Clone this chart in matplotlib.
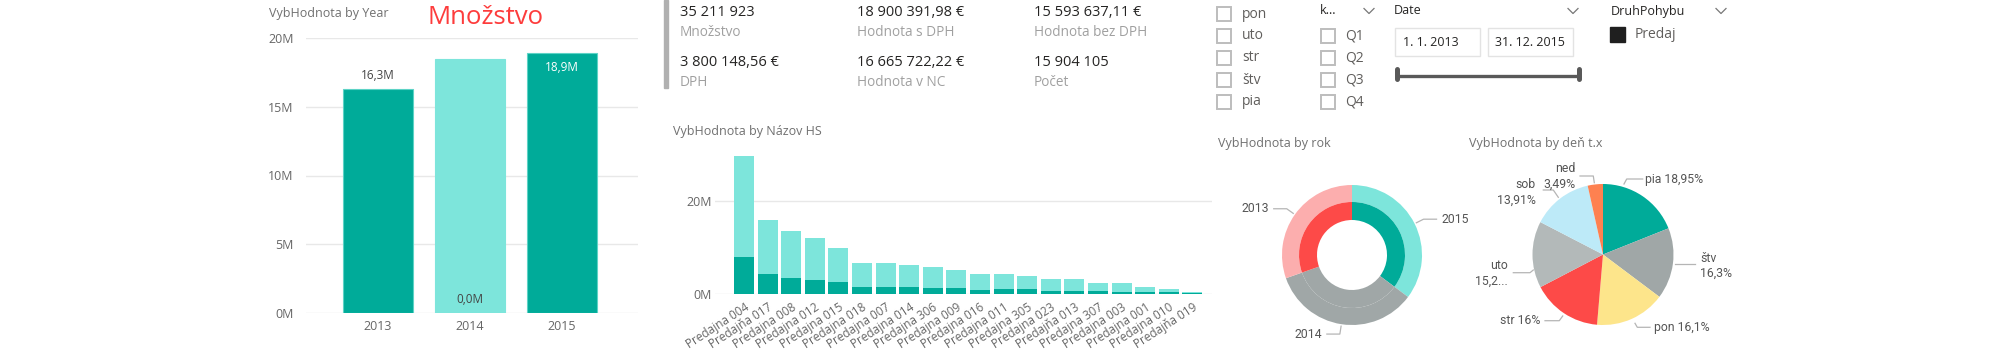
import numpy as np
import matplotlib
matplotlib.use("Agg")
import matplotlib.pyplot as plt
from matplotlib.patches import Rectangle

plt.rcParams['font.family'] = ['Open Sans', 'DejaVu Sans']

# ---- data ----
years = ["2013", "2014", "2015"]
year_vals = [16.3, 18.45, 18.9]          # millions
year_labels = ["16,3M", "0,0M", "18,9M"]

kpi_values = ["35 211 923", "18 900 391,98 €", "15 593 637,11 €",
              "3 800 148,56 €", "16 665 722,22 €", "15 904 105"]
kpi_names = ["Množstvo", "Hodnota s DPH", "Hodnota bez DPH",
             "DPH", "Hodnota v NC", "Počet"]

stores = ["Predajna 004", "Predajňa 017", "Predajna 008", "Predajna 012",
          "Predajna 015", "Predajna 018", "Predajna 007", "Predajna 014",
          "Predajna 306", "Predajna 009", "Predajna 016", "Predajna 011",
          "Predajna 305", "Predajna 023", "Predajňa 013", "Predajna 307",
          "Predajna 003", "Predajna 001", "Predajna 010", "Predajňa 019"]
store_total = [29.5, 15.8, 13.4, 12.1, 9.9, 6.6, 6.55, 6.2, 5.7, 5.2,
               4.35, 4.35, 3.77, 3.2, 3.13, 2.35, 2.3, 1.4, 1.07, 0.35]
store_sel = [7.86, 4.2, 3.5, 2.9, 2.5, 1.5, 1.6, 1.4, 1.28, 1.28,
             0.92, 1.07, 1.07, 0.7, 0.7, 0.56, 0.5, 0.35, 0.35, 0.3]

donut_years = ["2015", "2014", "2013"]
donut_vals = [18.9, 18.45, 16.3]

days = ["pia", "štv", "pon", "str", "uto", "sob", "ned"]
day_pct = [18.95, 16.3, 16.1, 16.0, 15.25, 13.91, 3.49]
day_labels = ["pia 18,95%", "štv\n16,3%", "pon 16,1%", "str 16%",
              "uto\n15,2...", "sob\n13,91%", "ned\n3,49%"]

weekdays = ["pon", "uto", "str", "štv", "pia"]
quarters = ["Q1", "Q2", "Q3", "Q4"]
date_from, date_to = "1. 1. 2013", "31. 12. 2015"

# ---- colours ----
TEAL = '#00AB99'
LTEAL = '#7DE5DB'
GRID = '#E8E8E8'
TXT = '#666666'
TITLE = '#707070'
DARK = '#252423'
LBL = '#555555'

W, H = 2000, 350
fig = plt.figure(figsize=(20, 3.5), dpi=100)


def px_axes(x0, y0, x1, y1):
    return fig.add_axes([x0 / W, 1 - y1 / H, (x1 - x0) / W, (y1 - y0) / H])


bg = fig.add_axes([0, 0, 1, 1])
bg.set_xlim(0, W)
bg.set_ylim(H, 0)
bg.axis('off')

# ---- bar chart by year ----
bg.text(269, 13, "VybHodnota by Year", fontsize=9, color=TITLE, va='center')
bg.text(428, 18, "Množstvo", fontsize=18.5, color='#FD3C3C', va='center')
bg.add_patch(Rectangle((664, 0), 4, 88, color='#B0B0B0'))

ax1 = px_axes(306, 38, 638, 313)
x = np.arange(len(years))
ax1.bar(x, year_vals, width=0.76, color=[TEAL, LTEAL, TEAL],
        edgecolor=['#5DD3C6', LTEAL, '#5DD3C6'], linewidth=0.8, zorder=2)
ax1.set_xlim(-0.78, 2.83)
ax1.set_ylim(0, 20)
ax1.set_yticks(range(0, 25, 5))
ax1.set_yticklabels([f"{v}M" for v in range(0, 25, 5)])
ax1.set_xticks(x)
ax1.set_xticklabels(years)
ax1.grid(axis='y', color=GRID, lw=1, zorder=0)
ax1.tick_params(length=0, colors=TXT, labelsize=9)
ax1.tick_params(axis='y', pad=9)
ax1.tick_params(axis='x', pad=5)
for s in ax1.spines.values():
    s.set_visible(False)
ax1.annotate(year_labels[0], (0, year_vals[0]), xytext=(0, 9.4), textcoords='offset points',
             ha='center', va='center', fontsize=8.5, color='#444444')
ax1.annotate(year_labels[1], (1, 0), xytext=(0, 9.4), textcoords='offset points',
             ha='center', va='center', fontsize=8.5, color='#444444')
ax1.annotate(year_labels[2], (2, year_vals[2]), xytext=(0, -10.7), textcoords='offset points',
             ha='center', va='center', fontsize=8.5, color='white')

# ---- KPI cards ----
kx = [680, 857, 1034]
ky = [13, 62.5]
for i, (v, n) in enumerate(zip(kpi_values, kpi_names)):
    cx = kx[i % 3]
    cy = ky[i // 3]
    bg.text(cx, cy, v, fontsize=10.5, color=DARK, va='center')
    bg.text(cx, cy + 20, n, fontsize=9.8, color='#A0A0A0', va='center')

# ---- bar chart by store ----
bg.text(673, 131, "VybHodnota by Názov HS", fontsize=9, color=TITLE, va='center')
ax2 = px_axes(715, 150, 1212, 294)
xs = np.arange(len(stores))
ax2.bar(xs, store_total, width=0.85, color=LTEAL, zorder=2)
ax2.bar(xs, store_sel, width=0.85, color=TEAL, zorder=3)
ax2.set_xlim(-1.23, 19.83)
ax2.set_ylim(0, 30.84)
ax2.set_yticks([0, 20])
ax2.set_yticklabels(["0M", "20M"])
ax2.set_xticks(xs)
ax2.set_xticklabels(stores, rotation=33, ha='right', rotation_mode='anchor')
ax2.grid(axis='y', color=GRID, lw=1, zorder=0)
ax2.tick_params(length=0, colors=TXT, labelsize=9)
ax2.tick_params(axis='x', labelsize=8.5, pad=5)
ax2.tick_params(axis='y', pad=2)
for s in ax2.spines.values():
    s.set_visible(False)

# ---- donut by year ----
bg.text(1218, 143, "VybHodnota by rok", fontsize=9, color=TITLE, va='center')
axd = px_axes(1252, 155, 1452, 355)
outer, _ = axd.pie(donut_vals, radius=70, startangle=90, counterclock=False,
                   colors=[LTEAL, '#A0A7A7', '#FCAEAE'],
                   wedgeprops=dict(width=17, edgecolor='none'))
axd.pie(donut_vals, radius=53, startangle=90, counterclock=False,
        colors=[TEAL, '#A0A7A7', '#FD4A48'],
        wedgeprops=dict(width=18, edgecolor='none'))
axd.set_xlim(-100, 100)
axd.set_ylim(-100, 100)
for w, lab in zip(outer, donut_years):
    t = np.deg2rad((w.theta1 + w.theta2) / 2)
    side = 1 if np.cos(t) > 0 else -1
    p0 = (72 * np.cos(t), 72 * np.sin(t))
    p1 = (80 * np.cos(t), 80 * np.sin(t))
    p2 = (p1[0] + side * 13, p1[1])
    axd.plot([p0[0], p1[0], p2[0]], [p0[1], p1[1], p2[1]], color='#B5B5B5', lw=0.9, clip_on=False)
    axd.text(p2[0] + side * 5, p2[1], lab, ha='left' if side > 0 else 'right', va='center',
             fontsize=8.8, color=LBL, family=['Roboto', 'DejaVu Sans'])

# ---- pie by weekday ----
bg.text(1469, 143, "VybHodnota by deň t.x", fontsize=9, color=TITLE, va='center')
axp = px_axes(1503, 154.5, 1703, 354.5)
axp.pie(day_pct, radius=70.5, startangle=90, counterclock=False,
        colors=[TEAL, '#A0A7A7', '#FDE58B', '#FD4A48', '#B3B9B9', '#BDEAF8', '#FE8150'],
        wedgeprops=dict(edgecolor='none'))
axp.set_xlim(-100, 100)
axp.set_ylim(-100, 100)
# leader layout: start, elbow, end, text anchor (pixels relative to centre)
pie_leaders = [
    [(21, 70.5), (23.7, 75.5), (39.7, 75.5), (42, 75.5), 'left'],
    [(72, -9.5), (80, -9.5), (92, -9.5), (97, -11.3), 'left'],
    [(32, -68.8), (34.3, -72.8), (47, -72.8), (51, -73.3), 'left'],
    [(-40.3, -61.5), (-43.7, -66.2), (-58, -66.2), (-63, -66.2), 'right'],
    [(-69.7, -15.5), (-73, -18.2), (-89.7, -18.2), (-95, -19.2), 'right'],
    [(-44.7, 57.2), (-49.7, 64.5), (-59.7, 64.5), (-67, 61.8), 'right'],
    [(-8.7, 71.8), (-9.7, 78.5), (-23, 78.5), (-28, 77.8), 'right'],
]
for lab, (a, b, c, t, ha) in zip(day_labels, pie_leaders):
    axp.plot([a[0], b[0], c[0]], [a[1], b[1], c[1]], color='#B5B5B5', lw=0.9, clip_on=False)
    axp.text(t[0], t[1], lab, ha=ha, va='center', fontsize=8.8, color=LBL,
             linespacing=1.25, family=['Roboto', 'DejaVu Sans'])

# ---- slicers ----
def chevron(cx, cy):
    bg.plot([cx - 5, cx, cx + 5], [cy - 2.5, cy + 2.5, cy - 2.5], color='#777777', lw=0.9)


ys = [14, 35.7, 57.7, 80, 101.7]
for yy, d in zip(ys, weekdays):
    bg.add_patch(Rectangle((1217, yy - 7), 14, 14, fill=False, ec='#BDBDBD', lw=1.4))
    bg.text(1242, yy, d, fontsize=10, color='#605E5C', va='center')

bg.text(1320, 11, "k...", fontsize=9, color=DARK, va='center')
chevron(1369, 11)
for yy, q in zip(ys[1:], quarters):
    bg.add_patch(Rectangle((1321, yy - 7), 14, 14, fill=False, ec='#BDBDBD', lw=1.4))
    bg.text(1345, yy, q, fontsize=10, color='#605E5C', va='center')

bg.text(1394, 11, "Date", fontsize=9, color=DARK, va='center')
chevron(1573, 11)
bg.add_patch(Rectangle((1394.5, 27.5), 85, 28.5, fill=False, ec='#E3E3E3', lw=1))
bg.add_patch(Rectangle((1487.5, 27.5), 85, 28.5, fill=False, ec='#E3E3E3', lw=1))
bg.text(1403, 42.5, date_from, fontsize=9, color=DARK, va='center')
bg.text(1495, 42.5, date_to, fontsize=9, color=DARK, va='center')
bg.plot([1397, 1578], [75.7, 75.7], color='#595959', lw=2.4)
bg.plot([1396.7, 1396.7], [68.5, 79], color='#595959', lw=3.6, solid_capstyle='round')
bg.plot([1578.5, 1578.5], [68.5, 79], color='#595959', lw=3.6, solid_capstyle='round')

bg.text(1611, 11, "DruhPohybu", fontsize=9, color=DARK, va='center')
chevron(1721, 11)
bg.add_patch(Rectangle((1609.5, 27), 15.5, 15, color='#1F1F1F'))
bg.text(1635, 34.3, "Predaj", fontsize=10, color='#605E5C', va='center')

fig.savefig("out.png", dpi=100)
